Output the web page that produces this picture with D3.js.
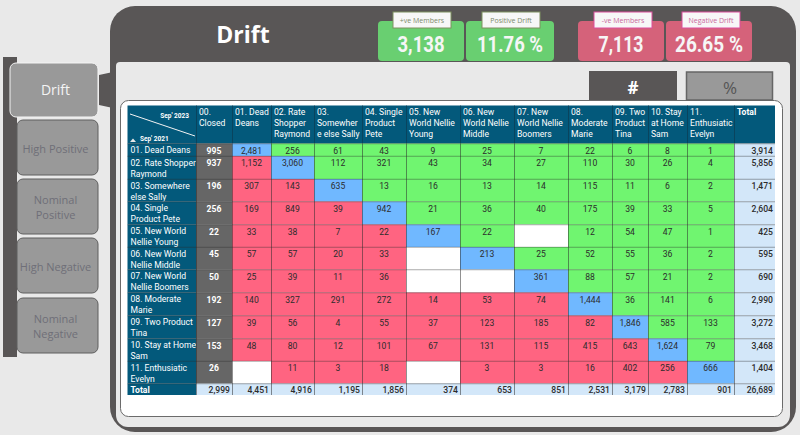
<!DOCTYPE html>
<html>
<head>
<meta charset="utf-8">
<script src="https://cdn.jsdelivr.net/npm/d3@7"></script>
<style>
  html, body { margin: 0; padding: 0; background: #e9e9e9; overflow: hidden; }
  text { font-family: "Open Sans", "Noto Sans", sans-serif; }
  .table text { font-family: Roboto, "Open Sans", sans-serif; }
</style>
</head>
<body>
<div id="chart"></div>
<script>
// Column headers, wrapped the same way the table wraps them
const columnLabels = [
  ['00.', 'Closed'],
  ['01. Dead', 'Deans'],
  ['02. Rate', 'Shopper', 'Raymond'],
  ['03.', 'Somewher', 'e else Sally'],
  ['04. Single', 'Product', 'Pete'],
  ['05. New', 'World Nellie', 'Young'],
  ['06. New', 'World Nellie', 'Middle'],
  ['07. New', 'World Nellie', 'Boomers'],
  ['08.', 'Moderate', 'Marie'],
  ['09. Two', 'Product', 'Tina'],
  ['10. Stay', 'at Home', 'Sam'],
  ['11.', 'Enthusiatic', 'Evelyn'],
  ['Total'],
];

const rowLabels = [
  ['01. Dead Deans'],
  ['02. Rate Shopper', 'Raymond'],
  ['03. Somewhere', 'else Sally'],
  ['04. Single', 'Product Pete'],
  ['05. New World', 'Nellie Young'],
  ['06. New World', 'Nellie Middle'],
  ['07. New World', 'Nellie Boomers'],
  ['08. Moderate', 'Marie'],
  ['09. Two Product', 'Tina'],
  ['10. Stay at Home', 'Sam'],
  ['11. Enthusiatic', 'Evelyn'],
  ['Total'],
];

// One row per segment: closed, 01 to 11, total. null is an empty cell
const row01 = [995, 2481, 256, 61, 43, 9, 25, 7, 22, 6, 8, 1, 3914];
const row02 = [937, 1152, 3060, 112, 321, 43, 34, 27, 110, 30, 26, 4, 5856];
const row03 = [196, 307, 143, 635, 13, 16, 13, 14, 115, 11, 6, 2, 1471];
const row04 = [256, 169, 849, 39, 942, 21, 36, 40, 175, 39, 33, 5, 2604];
const row05 = [22, 33, 38, 7, 22, 167, 22, null, 12, 54, 47, 1, 425];
const row06 = [45, 57, 57, 20, 33, null, 213, 25, 52, 55, 36, 2, 595];
const row07 = [50, 25, 39, 11, 36, null, null, 361, 88, 57, 21, 2, 690];
const row08 = [192, 140, 327, 291, 272, 14, 53, 74, 1444, 36, 141, 6, 2990];
const row09 = [127, 39, 56, 4, 55, 37, 123, 185, 82, 1846, 585, 133, 3272];
const row10 = [153, 48, 80, 12, 101, 67, 131, 115, 415, 643, 1624, 79, 3468];
const row11 = [26, null, 11, 3, 18, null, 3, 3, 16, 402, 256, 666, 1404];
const rowTotal = [2999, 4451, 4916, 1195, 1856, 374, 653, 851, 2531, 3179, 2783, 901, 26689];
const tableRows = [row01, row02, row03, row04, row05, row06, row07, row08, row09, row10, row11, rowTotal];

const kpiLabels = ['+ve Members', 'Positive Drift', '-ve Members', 'Negative Drift'];
const kpiValues = ['3,138', '11.76 %', '7,113', '26.65 %'];
const navLabels = [['Drift'], ['High Positive'], ['Nominal', 'Positive'], ['High Negative'], ['Nominal', 'Negative']];

// Layout
const W = 800, H = 435;
const columnEdges = [196, 232, 271, 314, 362, 406, 460, 514, 568, 612, 648, 687, 734, 775];
const rowEdges = [143.5, 156, 179, 201.5, 224.5, 247, 269.5, 292.5, 315.5, 338.5, 361, 383.5, 395];
const tableLeft = 127.5, tableTop = 105.5;

const colors = {
  dark: '#595656', page: '#e9e9e9', header: '#03597b', grey: '#666666',
  green: '#70f570', red: '#ff6481', blue: '#70b8ff', total: '#d3e7f9',
  nav: '#999999', navText: '#6f6f78',
};

const colIndex = d3.range(columnLabels.length);
const rowIndex = d3.range(rowLabels.length);
const xScale = d3.scaleOrdinal(colIndex, columnEdges);
const yScale = d3.scaleOrdinal(rowIndex, rowEdges);
const colWidth = (j) => columnEdges[j + 1] - columnEdges[j];
const rowHeight = (i) => rowEdges[i + 1] - rowEdges[i];
const fmt = d3.format(',');

const svg = d3.select('#chart').append('svg')
  .attr('width', W).attr('height', H).style('display', 'block');

svg.append('rect').attr('width', W).attr('height', H).attr('fill', colors.page);

// Left nav rail and buttons
svg.append('rect').attr('x', 3).attr('y', 57).attr('width', 14).attr('height', 300).attr('fill', colors.dark);

const navTops = [63, 120, 179, 238, 298];
const navBottoms = [117, 175, 234, 293, 353];
const navG = svg.selectAll('g.nav').data(navLabels).enter().append('g').attr('class', 'nav');
navG.append('rect')
  .attr('x', (d, i) => (i === 0 ? 10 : 17))
  .attr('y', (d, i) => navTops[i])
  .attr('width', (d, i) => (i === 0 ? 88 : 81))
  .attr('height', (d, i) => navBottoms[i] - navTops[i])
  .attr('rx', 6)
  .attr('fill', colors.nav)
  .attr('stroke', (d, i) => (i === 0 ? '#f4f4f4' : '#5f5f5f'))
  .attr('stroke-width', 1);
navG.each(function (d, i) {
  const cy = (navTops[i] + navBottoms[i]) / 2 + 0.5;
  d3.select(this).selectAll('text').data(d).enter().append('text')
    .attr('x', 55.5)
    .attr('y', (t, k) => cy + 4.5 + (k - (d.length - 1) / 2) * 15)
    .attr('text-anchor', 'middle')
    .attr('font-size', i === 0 ? 14 : 11)
    .attr('fill', i === 0 ? '#f4f4f4' : colors.navText)
    .text((t) => t);
});

// Connector between the active button and the panel
svg.append('path').attr('d', 'M99,75 L113,72 L113,108 L99,105 Z').attr('fill', colors.dark);

// Main panel: dark shell, then the light interior leaves the header band on top
svg.append('rect').attr('x', 110).attr('y', 6).attr('width', 686).attr('height', 426)
  .attr('rx', 25).attr('fill', colors.dark);
svg.append('path')
  .attr('d', 'M116,66 A4,4 0 0 1 120,62 L786,62 A4,4 0 0 1 790,66 L790,415 A12,12 0 0 1 778,427 L128,427 A12,12 0 0 1 116,415 Z')
  .attr('fill', colors.page);
svg.append('rect').attr('x', 120.5).attr('y', 100.5).attr('width', 662).attr('height', 316)
  .attr('rx', 8).attr('fill', '#ffffff').attr('stroke', '#6b6b6b').attr('stroke-width', 1);

svg.append('text').attr('x', 243).attr('y', 43).attr('text-anchor', 'middle')
  .attr('font-size', 23).attr('font-weight', 700).attr('fill', '#ffffff').text('Drift');

// KPI cards
const kpiLeft = [378, 466, 578, 666];
const kpiWidth = [86, 88, 86, 86];
const kpiTextWidth = [47, 66, 45, 68];
const tagLeft = [393, 482, 594, 682];
const tagWidth = [58, 58, 58, 58];
const kpiG = svg.selectAll('g.kpi').data(kpiValues).enter().append('g').attr('class', 'kpi');
kpiG.append('rect').attr('x', (d, i) => kpiLeft[i]).attr('y', 21).attr('width', (d, i) => kpiWidth[i]).attr('height', 40)
  .attr('rx', 4).attr('fill', (d, i) => (i < 2 ? '#69cf71' : '#d5627a'));
kpiG.append('text').attr('x', (d, i) => kpiLeft[i] + kpiWidth[i] / 2).attr('y', 52)
  .attr('text-anchor', 'middle').attr('font-size', 22).attr('font-weight', 700)
  .attr('textLength', (d, i) => kpiTextWidth[i]).attr('lengthAdjust', 'spacingAndGlyphs')
  .style('font-family', 'Roboto, sans-serif')
  .attr('fill', '#f6f6f6').text((d) => d);
kpiG.append('rect').attr('x', (d, i) => tagLeft[i]).attr('y', 12).attr('width', (d, i) => tagWidth[i]).attr('height', 16)
  .attr('fill', '#f7f7f7').attr('stroke', (d, i) => (i < 2 ? '#7f9160' : '#dc4f9c')).attr('stroke-width', 1);
kpiG.append('text').attr('x', (d, i) => tagLeft[i] + tagWidth[i] / 2).attr('y', 23)
  .attr('text-anchor', 'middle').attr('font-size', 7)
  .attr('fill', (d, i) => (i < 2 ? '#7d8a6c' : '#c9689c')).text((d, i) => kpiLabels[i]);

// # and % toggles
svg.append('rect').attr('x', 589).attr('y', 71).attr('width', 88).attr('height', 29).attr('fill', colors.dark);
svg.append('text').attr('x', 633).attr('y', 94).attr('text-anchor', 'middle')
  .attr('font-size', 17).attr('font-weight', 700).attr('fill', '#ffffff').text('#');
svg.append('rect').attr('x', 686.5).attr('y', 72).attr('width', 86).attr('height', 28)
  .attr('fill', colors.nav).attr('stroke', '#666666').attr('stroke-width', 1.5);
svg.append('text').attr('x', 730).attr('y', 94).attr('text-anchor', 'middle')
  .attr('font-size', 17).attr('fill', '#555555').text('%');

// Table header
const table = svg.append('g').attr('class', 'table');
table.append('rect').attr('x', tableLeft).attr('y', tableTop)
  .attr('width', columnEdges[columnEdges.length - 1] - tableLeft).attr('height', rowEdges[0] - tableTop)
  .attr('fill', colors.header);
table.append('line').attr('x1', 130).attr('y1', 114).attr('x2', 195).attr('y2', 136)
  .attr('stroke', '#f2f2f2').attr('stroke-width', 1);
table.append('text').attr('x', 189).attr('y', 118).attr('text-anchor', 'end')
  .attr('font-size', 6.5).attr('font-weight', 700).attr('fill', '#ffffff').text("Sep' 2023");
table.append('text').attr('x', 140).attr('y', 141)
  .attr('font-size', 6.5).attr('font-weight', 700).attr('fill', '#ffffff').text("Sep' 2021");
table.append('path').attr('d', 'M130,142 L133,138.5 L136,142 Z').attr('fill', '#e8e8e8');

colIndex.forEach((j) => {
  const g = table.append('g');
  g.selectAll('text').data(columnLabels[j]).enter().append('text')
    .attr('x', xScale(j) + 3)
    .attr('y', (t, k) => 115 + k * 11)
    .attr('font-size', 8.6)
    .attr('font-weight', j === 12 ? 700 : 400)
    .attr('fill', '#ffffff')
    .text((t) => t);
  g.append('line').attr('x1', xScale(j) + 0.5).attr('x2', xScale(j) + 0.5)
    .attr('y1', tableTop).attr('y2', rowEdges[0]).attr('stroke', '#0b3f57').attr('stroke-width', 0.8);
});

// Row header cells
rowIndex.forEach((i) => {
  table.append('rect').attr('x', tableLeft).attr('y', yScale(i)).attr('width', columnEdges[0] - tableLeft)
    .attr('height', rowHeight(i)).attr('fill', colors.header);
  table.selectAll(null).data(rowLabels[i]).enter().append('text')
    .attr('x', 130.5)
    .attr('y', (t, k) => yScale(i) + (i === 11 ? 9.5 : 9.8) + k * 10.8)
    .attr('font-size', 8.6)
    .attr('font-weight', i === 11 ? 700 : 400)
    .attr('fill', '#ffffff')
    .text((t) => t);
});

// Colour follows position against the diagonal: retained, moved up, moved down
function cellFill(i, j, v) {
  if (i === 11 || j === 12) return colors.total;
  if (j === 0) return colors.grey;
  if (v === null) return '#ffffff';
  if (i + 1 === j) return colors.blue;
  return j > i + 1 ? colors.green : colors.red;
}

const cells = [];
rowIndex.forEach((i) => colIndex.forEach((j) => cells.push({ i, j, v: tableRows[i][j] })));

table.selectAll('rect.cell').data(cells).enter().append('rect')
  .attr('class', 'cell')
  .attr('x', (d) => xScale(d.j))
  .attr('y', (d) => yScale(d.i))
  .attr('width', (d) => colWidth(d.j))
  .attr('height', (d) => rowHeight(d.i))
  .attr('fill', (d) => cellFill(d.i, d.j, d.v));

// Grid lines over the cells
colIndex.forEach((j) => {
  table.append('line').attr('x1', xScale(j) + 0.5).attr('x2', xScale(j) + 0.5)
    .attr('y1', rowEdges[0]).attr('y2', rowEdges[rowEdges.length - 1])
    .attr('stroke', '#2b2b2b').attr('stroke-opacity', 0.65).attr('stroke-width', 0.8);
});
rowIndex.forEach((i) => {
  table.append('line').attr('x1', tableLeft).attr('x2', columnEdges[columnEdges.length - 1])
    .attr('y1', yScale(i) + 0.25).attr('y2', yScale(i) + 0.25)
    .attr('stroke', '#2b2b2b').attr('stroke-opacity', 0.5).attr('stroke-width', 0.8);
});

table.selectAll('text.value').data(cells.filter((d) => d.v !== null)).enter().append('text')
  .attr('class', 'value')
  .attr('x', (d) => (d.i === 11 || d.j === 12 ? xScale(d.j) + colWidth(d.j) - 2 : xScale(d.j) + colWidth(d.j) / 2))
  .attr('y', (d) => yScale(d.i) + (d.i === 11 ? 9.5 : 10))
  .attr('text-anchor', (d) => (d.i === 11 || d.j === 12 ? 'end' : 'middle'))
  .attr('font-size', 8.6)
  .attr('font-weight', (d) => (d.j === 0 && d.i < 11 ? 700 : (d.i === 11 || d.j === 12 ? 500 : 400)))
  .attr('fill', (d) => (d.j === 0 && d.i < 11 ? '#ffffff' : '#2c2c2c'))
  .text((d) => fmt(d.v));
</script>
</body>
</html>
